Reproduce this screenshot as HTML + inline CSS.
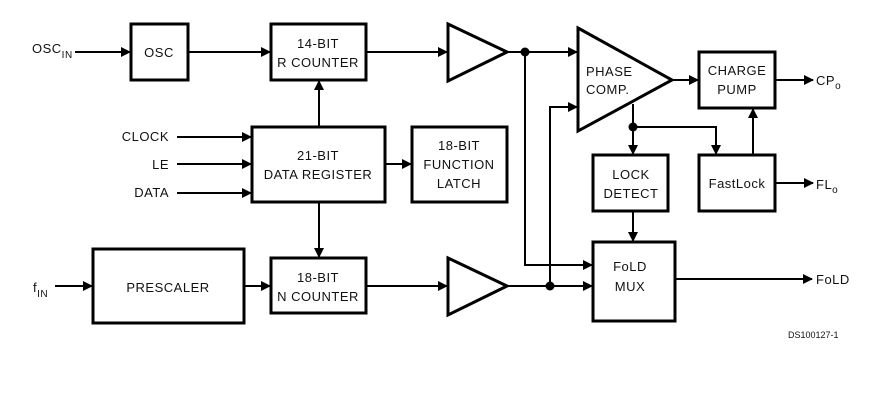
<!DOCTYPE html>
<html><head><style>
html,body{margin:0;padding:0;background:#fff;width:883px;height:403px;overflow:hidden}
svg{display:block}
text{font-family:"Liberation Sans",sans-serif;font-size:13px;fill:#111;letter-spacing:0.5px}
</style></head><body>
<svg width="883" height="403" viewBox="0 0 883 403" xmlns="http://www.w3.org/2000/svg">
<defs>
<marker id="a" markerWidth="10" markerHeight="10" refX="9" refY="5" orient="auto" markerUnits="userSpaceOnUse">
<path d="M0,0 L10,5 L0,10 Z" fill="#000"/></marker>
</defs>
<g fill="none" stroke="#000" stroke-width="3">
<rect x="131" y="24" width="57" height="56"/>
<rect x="271" y="24" width="95" height="56"/>
<rect x="252" y="127" width="133" height="75"/>
<rect x="412" y="127" width="95" height="75"/>
<rect x="93" y="249" width="151" height="74"/>
<rect x="271" y="258" width="95" height="55"/>
<path d="M448,24 L507,52 L448,81 Z"/>
<path d="M448,258 L507,286 L448,315 Z"/>
<path d="M578,28 L672,80 L578,131 Z"/>
<rect x="699" y="52" width="76" height="56"/>
<rect x="593" y="155" width="75" height="56"/>
<rect x="699" y="155" width="76" height="56"/>
<rect x="593" y="242" width="82" height="79"/>
</g>
<g fill="none" stroke="#000" stroke-width="2">
<line x1="75" y1="52" x2="130" y2="52" marker-end="url(#a)"/>
<line x1="188" y1="52" x2="270" y2="52" marker-end="url(#a)"/>
<line x1="366" y1="52" x2="447" y2="52" marker-end="url(#a)"/>
<line x1="319" y1="127" x2="319" y2="81" marker-end="url(#a)"/>
<line x1="177" y1="137" x2="251" y2="137" marker-end="url(#a)"/>
<line x1="177" y1="164" x2="251" y2="164" marker-end="url(#a)"/>
<line x1="177" y1="193" x2="251" y2="193" marker-end="url(#a)"/>
<line x1="385" y1="164" x2="411" y2="164" marker-end="url(#a)"/>
<line x1="319" y1="202" x2="319" y2="257" marker-end="url(#a)"/>
<line x1="55" y1="286" x2="92" y2="286" marker-end="url(#a)"/>
<line x1="244" y1="286" x2="270" y2="286" marker-end="url(#a)"/>
<line x1="366" y1="286" x2="447" y2="286" marker-end="url(#a)"/>
<line x1="507" y1="52" x2="577" y2="52" marker-end="url(#a)"/>
<polyline points="525,52 525,265 592,265" marker-end="url(#a)"/>
<line x1="507" y1="286" x2="592" y2="286" marker-end="url(#a)"/>
<polyline points="550,286 550,107 577,107" marker-end="url(#a)"/>
<line x1="672" y1="80" x2="698" y2="80" marker-end="url(#a)"/>
<line x1="775" y1="80" x2="813" y2="80" marker-end="url(#a)"/>
<line x1="633" y1="104" x2="633" y2="154" marker-end="url(#a)"/>
<polyline points="633,127 716,127 716,154" marker-end="url(#a)"/>
<line x1="753" y1="155" x2="753" y2="109" marker-end="url(#a)"/>
<line x1="775" y1="183" x2="813" y2="183" marker-end="url(#a)"/>
<line x1="633" y1="211" x2="633" y2="241" marker-end="url(#a)"/>
<line x1="675" y1="279" x2="812" y2="279" marker-end="url(#a)"/>
</g>
<g fill="#000">
<circle cx="525" cy="52" r="4.5"/>
<circle cx="633" cy="127" r="4.5"/>
<circle cx="550" cy="286" r="4.5"/>
</g>
<g text-anchor="middle">
<text x="159" y="57">OSC</text>
<text x="318" y="48">14-BIT</text>
<text x="318" y="67">R COUNTER</text>
<text x="318" y="160">21-BIT</text>
<text x="318" y="179">DATA REGISTER</text>
<text x="459" y="150">18-BIT</text>
<text x="459" y="169">FUNCTION</text>
<text x="459" y="188">LATCH</text>
<text x="168" y="292">PRESCALER</text>
<text x="318" y="282">18-BIT</text>
<text x="318" y="301">N COUNTER</text>
<text x="737" y="75">CHARGE</text>
<text x="737" y="94">PUMP</text>
<text x="631" y="179">LOCK</text>
<text x="631" y="198">DETECT</text>
<text x="737" y="188">FastLock</text>
<text x="630" y="271">FoLD</text>
<text x="630" y="291">MUX</text>
</g>
<text x="586" y="76">PHASE</text>
<text x="586" y="94">COMP.</text>
<text x="32" y="53">OSC<tspan font-size="10" dy="5">IN</tspan></text>
<text x="33" y="292">f<tspan font-size="10" dy="5">IN</tspan></text>
<text x="169" y="141" text-anchor="end">CLOCK</text>
<text x="169" y="169" text-anchor="end">LE</text>
<text x="169" y="197" text-anchor="end">DATA</text>
<text x="816" y="85">CP<tspan font-size="10" dy="4">o</tspan></text>
<text x="816" y="189">FL<tspan font-size="10" dy="4">o</tspan></text>
<text x="816" y="284">FoLD</text>
<text x="788" y="338" style="font-size:9px;letter-spacing:0">DS100127-1</text>
</svg>
</body></html>
